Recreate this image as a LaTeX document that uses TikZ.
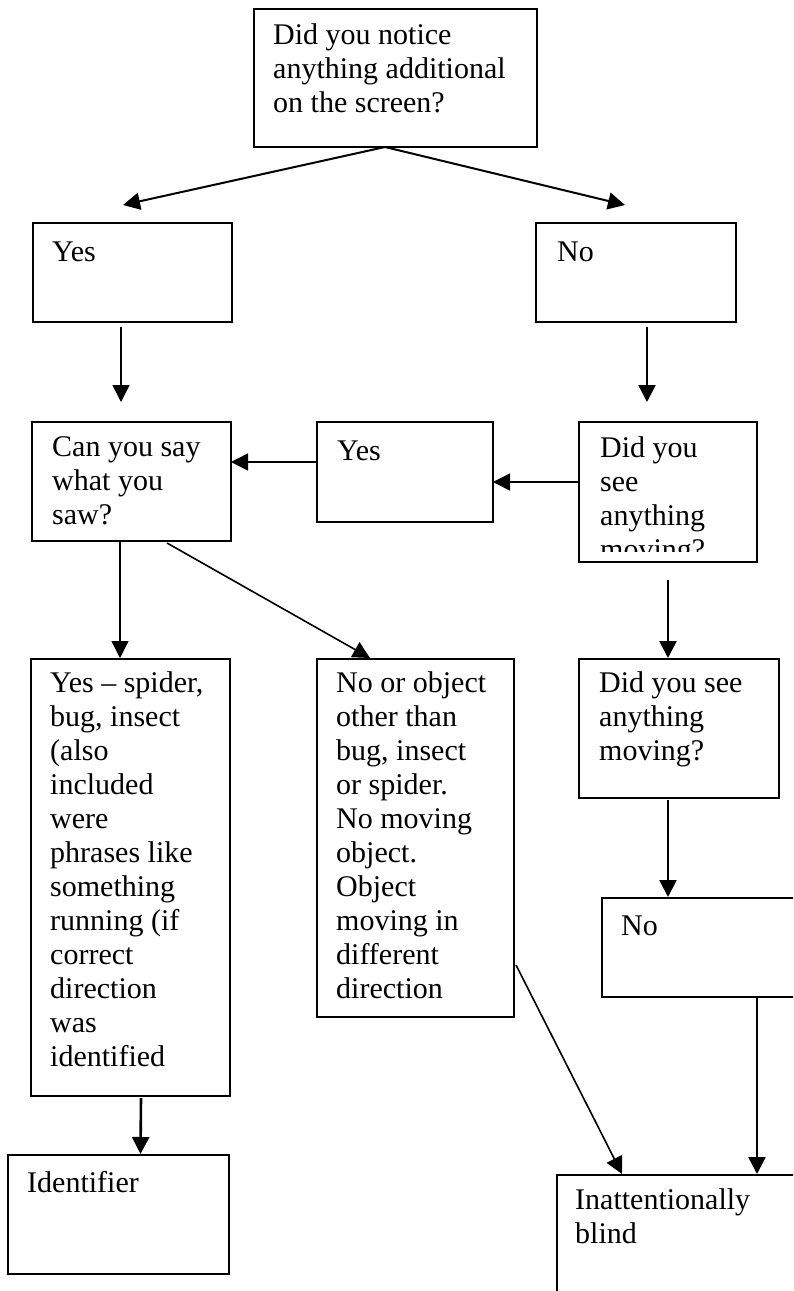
\documentclass[tikz,border=0pt]{standalone}
\usepackage{fontspec}
\setmainfont{Liberation Serif}
\usetikzlibrary{arrows.meta,calc}

\begin{document}
\begin{tikzpicture}[x=1pt,y=-1pt,
  box/.style={draw=black, line width=2.6pt, rectangle, inner sep=0pt, outer sep=0pt, anchor=north west},
  % first line starts with a strut: its baseline lies 23.8pt below the node's top
  txt/.style={anchor=north west, inner sep=0pt, align=left, font=\fontsize{30}{34}\selectfont,
              execute at begin node=\strut},
  arr/.style={draw=black, line width=1.6pt, -{Triangle[length=17pt,width=17pt]}},
  arrthick/.style={arr, line width=2.6pt}
]
\clip (0,0) rectangle (793,1291);
\fill[white] (0,0) rectangle (793,1291);

% boxes (position = top left corner, size in px)
\node[box, minimum width=283pt, minimum height=138pt] (q1) at (254,9) {};
\node[box, minimum width=199pt, minimum height=99pt] (yes1) at (33,223) {};
\node[box, minimum width=200pt, minimum height=99pt] (no1) at (536,223) {};
\node[box, minimum width=199pt, minimum height=119pt] (cansay) at (32,422) {};
\node[box, minimum width=176pt, minimum height=100pt] (yes2) at (317,422) {};
\node[box, minimum width=178pt, minimum height=140pt] (seeA) at (579,422) {};
\node[box, minimum width=199pt, minimum height=437pt] (spider) at (31,659) {};
\node[box, minimum width=197pt, minimum height=358pt] (other) at (317,659) {};
\node[box, minimum width=200pt, minimum height=139pt] (seeB) at (579,659) {};
\node[box, minimum width=260pt, minimum height=99pt] (no2) at (602,898) {};
\node[box, minimum width=221pt, minimum height=119pt] (ident) at (8,1155) {};
\node[box, minimum width=300pt, minimum height=160pt] (blind) at (557,1175) {};

% texts (offset = inset, first baseline minus strut height)
\node[txt] (q1t) at ($(q1.north west)+(19,14)$) {Did you notice\\anything additional\\on the screen?};
\node[txt] (yes1t) at ($(yes1.north west)+(19,14)$) {Yes};
\node[txt] (no1t) at ($(no1.north west)+(21,14)$) {No};
\node[txt] (cansayt) at ($(cansay.north west)+(20,14)$) {Can you say\\what you\\saw?};
\node[txt] (yes2t) at ($(yes2.north west)+(20,14)$) {Yes};
\begin{scope}
  \clip (seeA.north west) rectangle ($(seeA.south east)+(0,-11)$);
  \node[txt] (seeAt) at ($(seeA.north west)+(21,14)$) {Did you\\see\\anything\\moving?};
\end{scope}
\node[txt] (spidert) at ($(spider.north west)+(19,12.5)$) {Yes -- spider,\\bug, insect\\(also\\included\\were\\phrases like\\something\\running (if\\correct\\direction\\was\\identified};
\node[txt] (othert) at ($(other.north west)+(19,12.5)$) {No or object\\other than\\bug, insect\\or spider.\\No moving\\object.\\Object\\moving in\\different\\direction};
\node[txt] (seeBt) at ($(seeB.north west)+(20,12.5)$) {Did you see\\anything\\moving?};
\node[txt] (no2t) at ($(no2.north west)+(19,13)$) {No};
\node[txt] (identt) at ($(ident.north west)+(19,13)$) {Identifier};
\node[txt] (blindt) at ($(blind.north west)+(18,13)$) {Inattentionally\\blind};

% connectors
\draw[arr, line width=2pt] ($(q1.south)+(-10.5,0)$) -- ($(yes1.north)+(-9.5,-18)$);
\draw[arr, line width=2pt] ($(q1.south)+(-10.5,0)$) -- ($(no1.north)+(-11,-18)$);
\draw[arr] ($(yes1.south)+(-11.5,5)$) -- ($(cansay.north)+(-10.5,-20)$);
\draw[arrthick] ($(no1.south)+(11,5)$) -- ($(seeA.north)+(-21,-20)$);
\draw[arr] ($(seeA.north west)+(0,60)$) -- ($(yes2.north east)+(0,60)$);
\draw[arr] ($(yes2.north west)+(0,40)$) -- ($(cansay.north east)+(0,40)$);
\draw[arr] ($(cansay.south)+(-11.5,0)$) -- ($(spider.north)+(-10.5,-1)$);
\draw[arr] ($(cansay.south)+(35.5,2)$) -- ($(other.north)+(-45.5,-1)$);
\draw[arrthick] ($(seeA.south)+(0,18)$) -- ($(seeB.north)+(-11,-1)$);
\draw[arrthick] ($(seeB.south)+(-11,2)$) -- ($(no2.north west)+(66,-1)$);
\draw[arrthick] ($(spider.south)+(10.5,2)$) -- ($(ident.north)+(22,-1)$);
\draw[arr] ($(other.north east)+(2,306)$) -- ($(blind.north west)+(65,-1)$);
\draw[arrthick] ($(no2.south west)+(155,0)$) -- ($(blind.north west)+(200,-1)$);
\end{tikzpicture}
\end{document}
